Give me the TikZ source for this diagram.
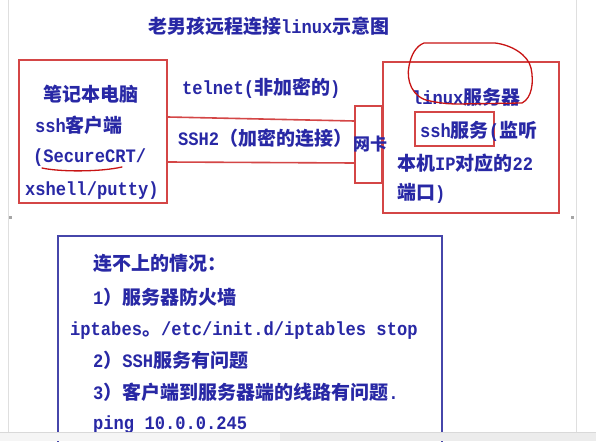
\documentclass[tikz,border=0pt]{standalone}
\usepackage{fontspec}
\setmainfont{Liberation Mono}[FakeStretch=0.9]
\newfontfamily\zh{Noto Sans CJK SC}
\definecolor{txtblue}{RGB}{40,40,165}
\definecolor{boxred}{RGB}{212,70,70}
\definecolor{pen}{RGB}{200,20,20}
\definecolor{boxblue}{RGB}{70,70,170}
\newcommand{\cz}[1]{{\zh\fontsize{19}{19}\selectfont #1}}
\tikzset{
  lbl/.style={anchor=base west, inner sep=0pt, text=txtblue, font=\bfseries\fontsize{19}{19}\selectfont},
  redbox/.style={draw=boxred, line width=1.6pt, rectangle, inner sep=0pt},
  redline/.style={draw=boxred, line width=1.6pt},
  redpen/.style={draw=pen, line width=1.3pt, line cap=round, line join=round},
  bluebox/.style={draw=boxblue, line width=1.6pt},
}
\begin{document}
\begin{tikzpicture}[x=1pt,y=-1pt]
\useasboundingbox (0,0) rectangle (596,441);
\fill[white] (0,0) rectangle (596,441);
\begin{scope}
\clip (0,0) rectangle (596,441);
% screenshot artefacts
\draw[gray!25, line width=0.8pt] (8,0) -- (8,432);
\draw[gray!25, line width=0.8pt] (576,0) -- (576,432);
\fill[gray!70] (9,215.5) rectangle (12,219);
\fill[gray!70] (571,215.5) rectangle (574,219);

% title
\node[lbl] (title) at (148,34) {\cz{老男孩远程连接}linux\cz{示意图}};

% boxes
\node[redbox, minimum width=148pt, minimum height=143pt] (laptop) at (93,131.5) {};
\node[redbox, minimum width=27pt, minimum height=77pt] (nic) at (368.5,144.5) {};
\node[redbox, minimum width=176pt, minimum height=151pt] (server) at (471,137.5) {};
\node[redbox, minimum width=79pt, minimum height=34pt] (sshsvc) at (454.5,129) {};

% connectors
\draw[redline] (laptop.east |- 0,117) -- (nic.west |- 0,121);
\draw[redline] (laptop.east |- 0,162) -- (nic.west |- 0,163);

% laptop text
\node[lbl] (l1) at (43,102) {\cz{笔记本电脑}};
\node[lbl] (l2) at (35,132) {ssh\cz{客户端}};
\node[lbl] (l3) at (33,162) {(SecureCRT/};
\node[lbl] (l4) at (25,195) {xshell/putty)};

% link labels
\node[lbl] (telnet) at (182,95) {telnet(\cz{非加密的})};
\node[lbl] (ssh2) at (178,145) {SSH2\cz{（加密的连接）}};
\node[lbl] (nictext) at (353,150) {{\zh\fontsize{17}{17}\selectfont 网卡}};

% server text
\node[lbl] (s1) at (412,104) {linux\cz{服务器}};
\node[lbl] (s2) at (420,137) {ssh\cz{服务}(\cz{监听}};
\node[lbl] (s3) at (397,170) {\cz{本机}IP\cz{对应的}22};
\node[lbl] (s4) at (397,199) {\cz{端口})};

% hand-drawn annotations
\draw[redpen] (430,101) .. controls (412,98) and (406,80) .. (409,66)
  .. controls (411,55) and (416,46) .. (424,43) -- (495,43)
  .. controls (512,45) and (528,55) .. (531,68)
  .. controls (534,82) and (532,98) .. (522,103) -- (458,104)
  .. controls (448,104) and (440,103) .. (430,101);
\draw[redpen] (42,168) .. controls (60,172) and (100,172) .. (122,167);

% bottom box
\draw[bluebox] (58,450) -- (58,236) -- (442,236) -- (442,450);
\node[lbl] (b1) at (93,270) {\cz{连不上的情况：}};
\node[lbl] (b2) at (93,304) {1\cz{）服务器防火墙}};
\node[lbl] (b3) at (70,335) {iptabes\cz{。}/etc/init.d/iptables stop};
\node[lbl] (b4) at (93,367) {2\cz{）}SSH\cz{服务有问题}};
\node[lbl] (b5) at (93,399) {3\cz{）客户端到服务器端的线路有问题}.};
\node[lbl] (b6) at (93,429) {ping 10.0.0.245};

% bottom bar
\fill[gray!8] (0,432) rectangle (280,441);
\fill[gray!15] (280,432) rectangle (596,441);
\draw[gray!30, line width=0.6pt] (0,432) -- (596,432);
\end{scope}
\end{tikzpicture}
\end{document}
